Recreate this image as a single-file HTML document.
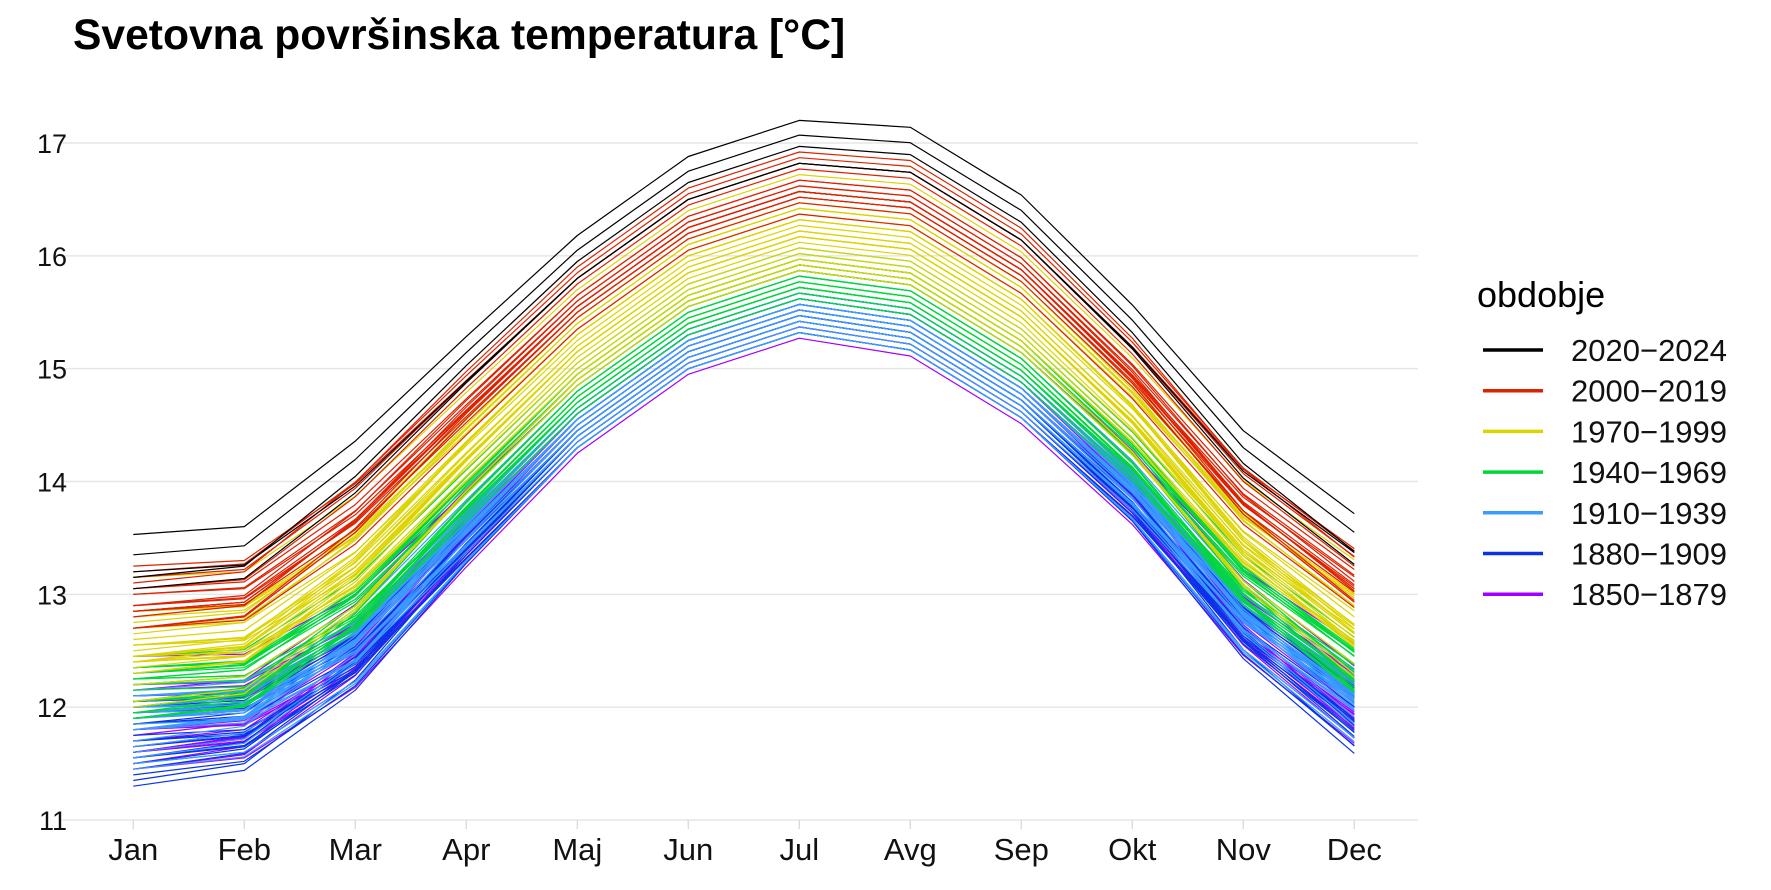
<!DOCTYPE html>
<html><head><meta charset="utf-8"><style>
html,body{margin:0;padding:0;background:#fff;}
svg text{font-family:"Liberation Sans",Arial,sans-serif;}
</style></head><body>
<svg id="chart" width="1771" height="885" viewBox="0 0 1771 885" xmlns="http://www.w3.org/2000/svg">
<text x="73" y="49" font-size="42.6" font-weight="bold" fill="#000">Svetovna površinska temperatura [°C]</text>
<g id="grid"></g>
<g id="lines"></g>
<g id="axes"></g>
<g id="legend">
<text x="1477" y="307" font-size="36" fill="#000">obdobje</text>
</g>
</svg>
<script>
const months = ["Jan","Feb","Mar","Apr","Maj","Jun","Jul","Avg","Sep","Okt","Nov","Dec"];
const baseTemp = [11.9,11.98,12.6,13.62,14.6,15.3,15.62,15.48,14.88,13.98,12.85,12.1];
const monthFactor = [1.0,1.0,1.1,1.05,1.0,1.0,1.0,1.05,1.05,1.0,1.0,1.0];
const winterWeight = [1.0,0.8,0.4,0.1,0,0,0,0,0,0.1,0.4,0.7];
const yTicks = [11,12,13,14,15,16,17];
const startYear = 1850;
const yearAnom = [
-0.05,0.0,0.05,-0.1,-0.05,-0.1,-0.2,-0.25,-0.05,-0.05,
-0.2,-0.3,-0.35,0.0,-0.25,0.0,0.05,-0.05,0.0,0.0,
-0.05,-0.1,-0.05,0.0,-0.1,-0.2,-0.1,0.25,0.3,-0.05,
-0.05,0.0,0.0,-0.1,-0.2,-0.15,-0.15,-0.2,-0.05,0.05,
-0.2,-0.15,-0.2,-0.25,-0.2,-0.15,0.0,0.0,-0.2,-0.05,
0.05,-0.05,-0.2,-0.3,-0.3,-0.15,-0.1,-0.3,-0.3,-0.3,
-0.25,-0.3,-0.2,-0.2,-0.05,0.0,-0.2,-0.3,-0.15,-0.1,
-0.05,0.0,-0.1,-0.05,-0.05,0.0,0.05,0.0,0.05,-0.1,
0.05,0.1,0.05,-0.05,0.1,0.05,0.1,0.2,0.25,0.2,
0.3,0.3,0.25,0.3,0.45,0.35,0.15,0.15,0.15,0.1,
0.05,0.2,0.25,0.35,0.1,0.1,0.0,0.3,0.35,0.3,
0.3,0.35,0.35,0.35,0.1,0.15,0.25,0.25,0.2,0.4,
0.4,0.3,0.35,0.55,0.3,0.35,0.25,0.5,0.45,0.55,
0.65,0.7,0.55,0.75,0.55,0.55,0.6,0.8,0.8,0.7,
0.8,0.75,0.55,0.6,0.7,0.85,0.7,0.9,1.1,0.85,
0.75,0.9,0.95,0.95,0.9,1.0,0.95,0.95,0.85,0.95,
1.05,0.9,0.95,1.0,1.05,1.2,1.3,1.2,1.15,1.25,
1.35,1.2,1.2,1.45,1.58];
const winterDev = [
0.1,-0.3,0.2,0.0,-0.2,0.3,-0.1,0.15,-0.35,0.05,
-0.25,0.2,-0.1,0.3,-0.05,-0.3,0.1,0.25,-0.15,0.0,
0.2,-0.2,0.05,-0.3,0.25,0.1,-0.1,0.3,-0.05,-0.25,
-0.3,0.15,0.05,-0.2,0.25,-0.1,0.2,-0.35,0.1,0.0,
0.15,-0.25,0.3,-0.1,0.0,-0.3,0.2,0.1,-0.15,0.25,
-0.1,0.2,-0.05,0.15,-0.3,0.25,0.05,-0.2,0.1,-0.1,
0.2,-0.15,0.1,0.25,-0.2,0.0,0.3,-0.1,0.15,-0.25,
0.05,0.2,-0.2,0.1,0.25,-0.1,0.0,0.15,-0.25,0.2,
-0.15,0.1,0.25,-0.05,-0.2,0.15,0.0,-0.1,0.2,0.05,
-0.2,0.15,0.05,-0.25,0.1,0.2,-0.1,0.0,-0.15,0.25,
0.1,-0.2,0.15,0.0,0.2,-0.1,0.25,-0.15,0.05,-0.2,
0.15,0.0,-0.2,0.1,0.25,-0.15,0.05,0.2,-0.1,0.0,
0.1,-0.15,0.2,0.0,-0.2,0.15,0.05,-0.1,0.2,-0.05,
0.15,-0.1,0.0,0.2,-0.15,0.1,-0.05,0.15,0.0,-0.2,
0.1,0.2,-0.1,0.05,-0.15,0.1,0.0,-0.05,0.15,-0.1,
0.05,-0.1,0.15,0.0,-0.1,0.1,0.05,-0.15,0.1,0.0,
-0.05,0.1,0.0,-0.1,0.1,0.05,-0.1,0.15,0.0,0.05,
-0.1,0.1,-0.05,0.0,0.05];
const periodLabels = ["2020\u22122024","2000\u22122019","1970\u22121999","1940\u22121969","1910\u22121939","1880\u22121909","1850\u22121879"];
const periodStart = [2020,2000,1970,1940,1910,1880,1850];
const periodColors = ["#000000","#dd2200","#dcd400","#00d83a","#3a9cff","#0a32e8","#a000ff"];

const NS="http://www.w3.org/2000/svg";
const xL=62,xR=1418;
function xs(i){return 133.3+i*111;}
function ys(v){return 820-(v-11)*(820-143)/6;}
function mk(t,a,p){const e=document.createElementNS(NS,t);for(const k in a)e.setAttribute(k,a[k]);p.appendChild(e);return e;}
function colorFor(y){for(let i=0;i<periodStart.length;i++){if(y>=periodStart[i])return periodColors[i];}return periodColors[6];}

const grid=document.getElementById('grid');
yTicks.forEach(t=>{
  const l=mk('line',{x1:xL,x2:xR,y1:ys(t),y2:ys(t),stroke:'#e6e6e6','stroke-width':1.5},grid);
  
  
});
const axes=document.getElementById('axes');
yTicks.forEach(t=>{
  const tx=mk('text',{x:67,y:ys(t)+10,'font-size':27,'text-anchor':'end',fill:'#111'},axes);
  tx.textContent=t;
  
  
});
months.forEach((m,i)=>{
  const tk=mk('line',{x1:xs(i),x2:xs(i),y1:ys(11),y2:ys(11)+9,stroke:'#ddd','stroke-width':1.5},axes);
  
  
  const tx=mk('text',{x:xs(i),y:860,'font-size':31,'text-anchor':'middle',fill:'#111'},axes);
  tx.textContent=m;
  
  
});
const lines=document.getElementById('lines');
yearAnom.forEach((a,j)=>{
  const yr=startYear+j;
  const w=winterDev[j];
  const pts=baseTemp.map((b,i)=>xs(i).toFixed(1)+','+ys(b+a*monthFactor[i]+w*winterWeight[i]).toFixed(1)).join(' ');
  const pl=mk('polyline',{points:pts,fill:'none',stroke:colorFor(yr),'stroke-width':1.2,'stroke-linejoin':'round'},lines);
  
  
});
const lg=document.getElementById('legend');
periodLabels.forEach((p,i)=>{
  const y=350+i*40.7;
  const l=mk('line',{x1:1483,x2:1543,y1:y,y2:y,stroke:periodColors[i],'stroke-width':3.5},lg);
  
  
  const t=mk('text',{x:1571,y:y+11,'font-size':31,fill:'#111'},lg);
  t.textContent=p;
  
  
});
</script>
</body></html>
